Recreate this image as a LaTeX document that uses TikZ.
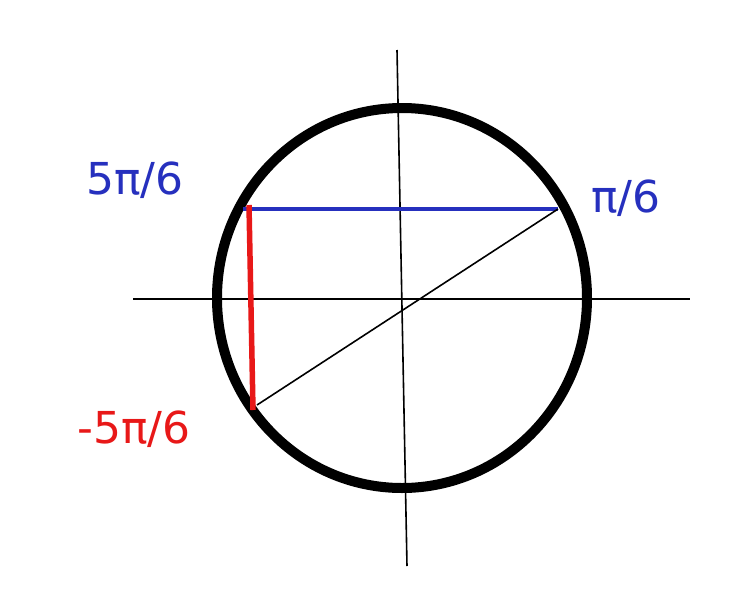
\documentclass[tikz,border=0pt]{standalone}
\usepackage{fontspec}
\setmainfont{DejaVu Sans}
\usepackage{tikz}
\usetikzlibrary{calc}
\definecolor{sinblue}{RGB}{38,48,190}
\definecolor{sinred}{RGB}{232,24,24}
\tikzset{
	axis line/.style={line width=1.6pt},
	unit circle/.style={line width=10pt},
	angle label/.style={font=\fontsize{44}{44}\selectfont, inner sep=0pt},
}
\begin{document}
\begin{tikzpicture}[x=1pt,y=-1pt]
		\useasboundingbox[fill=white] (0,0) rectangle (756,590);
		% axes
		\coordinate (xl) at (133,299);
		\coordinate (xr) at (690,299);
		\coordinate (yt) at (397,50);
		\coordinate (yb) at (407,566);
		\draw[axis line] (xl) -- (xr);
		\draw[axis line] (yt) -- (yb);
		\draw[unit circle] (402,298) ellipse (185 and 190);
		% points on the circle
		\coordinate (p1) at (558,209);
		\coordinate (p5) at (243,209);
		\coordinate (q5) at (249,205);
		\coordinate (m5) at (253,410);
		\coordinate (d5) at (257,405);
		\draw[sinblue,line width=4.5pt] (p5) -- (p1);
		\draw[sinred,line width=5.5pt] (q5) -- ($(q5)!0.48!(m5)$) -- (m5);
		\draw[line width=1.6pt] (p1) -- (d5);
		\node[angle label,text=sinblue] (l5) at (135,180) {5π/6};
		\node[angle label,text=sinblue] (l1) at (626,198) {π/6};
		\node[angle label,text=sinred] (lm) at (134,429) {-5π/6};
	\end{tikzpicture}
\end{document}
